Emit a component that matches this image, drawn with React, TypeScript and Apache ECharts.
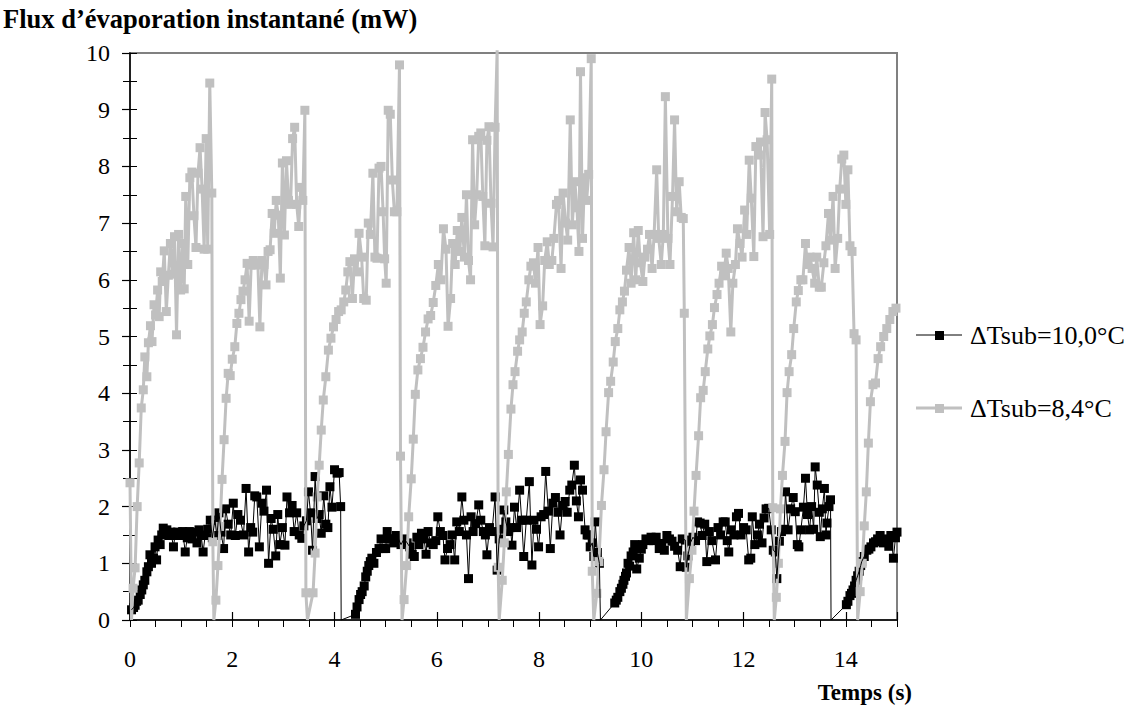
import React, { useEffect, useRef } from "react";
import * as echarts from "echarts";

// ---- Data (time s, flux mW) ----
// Series ΔTsub=10,0°C (black), one array per bubble cycle
const black1: number[][] = [[0.03,0.18],[0.07,0.22],[0.10,0.26],[0.13,0.33],[0.16,0.35],[0.20,0.45],[0.23,0.53],[0.26,0.62],[0.29,0.70],[0.33,0.85],[0.36,0.94],[0.39,1.15],[0.42,1.00],[0.46,1.09],[0.49,1.29],[0.52,1.06],[0.55,1.41],[0.59,1.33],[0.62,1.50],[0.65,1.62],[0.69,1.56],[0.72,1.59],[0.76,1.49],[0.80,1.55],[0.85,1.29],[0.88,1.49],[0.93,1.55],[0.98,1.49],[1.03,1.56],[1.08,1.20],[1.12,1.45],[1.16,1.56],[1.21,1.43],[1.26,1.55],[1.31,1.36],[1.35,1.59],[1.39,1.50],[1.43,1.20],[1.47,1.49],[1.52,1.60],[1.57,1.76],[1.61,1.45],[1.66,1.76],[1.70,1.49],[1.74,1.89],[1.78,1.55],[1.83,1.26],[1.87,1.96],[1.92,1.69],[1.97,1.50],[2.02,2.06],[2.06,1.49],[2.11,1.86],[2.16,1.76],[2.22,1.50],[2.27,2.32],[2.32,1.20],[2.36,1.63],[2.40,1.55],[2.44,2.19],[2.48,2.17],[2.53,1.29],[2.58,2.06],[2.62,1.92],[2.67,2.29],[2.71,1.00],[2.76,1.79],[2.80,1.60],[2.85,1.13],[2.89,1.86],[2.93,1.33],[2.98,1.63],[3.03,1.32],[3.07,2.17],[3.12,1.89],[3.17,2.02],[3.21,1.56],[3.26,1.89],[3.31,1.50],[3.36,1.44],[3.40,1.66],[3.45,1.75],[3.49,2.26],[3.53,1.89],[3.57,1.23],[3.62,2.53],[3.66,1.79],[3.70,1.86],[3.74,1.53],[3.79,2.19],[3.83,1.69],[3.87,1.63],[3.91,2.35],[3.95,1.99],[4.00,2.65],[4.05,2.59],[4.09,2.60],[4.12,2.00],[4.13,0.00]];
const black2: number[][] = [[4.41,0.10],[4.44,0.23],[4.48,0.36],[4.51,0.45],[4.54,0.50],[4.58,0.60],[4.61,0.76],[4.64,0.86],[4.67,0.96],[4.70,1.03],[4.73,1.09],[4.77,1.00],[4.82,1.19],[4.87,1.26],[4.91,1.43],[4.95,1.26],[5.00,1.26],[5.03,1.56],[5.07,1.43],[5.11,1.43],[5.16,1.36],[5.21,1.49],[5.26,1.41],[5.30,1.33],[5.36,1.43],[5.42,1.36],[5.47,1.29],[5.52,1.16],[5.56,1.12],[5.61,1.46],[5.65,1.33],[5.70,1.53],[5.75,1.43],[5.79,1.16],[5.83,1.56],[5.88,1.36],[5.93,1.33],[5.98,1.40],[6.02,1.82],[6.07,1.56],[6.12,1.49],[6.16,1.06],[6.21,1.26],[6.26,1.33],[6.30,1.50],[6.35,1.06],[6.39,1.73],[6.44,1.56],[6.49,2.17],[6.53,1.76],[6.58,1.50],[6.62,0.73],[6.67,1.82],[6.71,1.56],[6.76,1.70],[6.82,2.03],[6.86,1.76],[6.91,1.56],[6.95,1.50],[6.98,1.15],[7.03,1.63],[7.08,1.56],[7.14,2.17],[7.18,0.88],[7.22,1.43],[7.27,1.60],[7.31,1.94],[7.35,1.73],[7.40,1.56],[7.44,1.63],[7.47,1.32],[7.52,1.99],[7.56,1.63],[7.62,2.29],[7.66,1.76],[7.70,1.12],[7.75,1.76],[7.81,2.44],[7.86,0.97],[7.90,1.76],[7.95,1.60],[7.99,1.29],[8.04,1.82],[8.09,1.86],[8.13,2.62],[8.18,1.92],[8.22,1.26],[8.27,2.06],[8.32,2.16],[8.37,1.90],[8.41,1.50],[8.46,2.02],[8.51,2.09],[8.55,1.90],[8.60,2.29],[8.64,2.38],[8.69,2.73],[8.73,2.10],[8.77,1.82],[8.81,2.47],[8.85,2.29],[8.90,1.59],[8.94,1.50],[8.97,1.50],[9.00,1.29],[9.04,1.36],[9.07,1.12],[9.10,1.73],[9.14,1.19],[9.18,1.00],[9.20,0.00]];
const black3: number[][] = [[9.48,0.30],[9.51,0.35],[9.54,0.40],[9.58,0.50],[9.61,0.56],[9.64,0.63],[9.66,0.70],[9.69,0.77],[9.71,0.83],[9.74,1.00],[9.77,0.95],[9.80,1.13],[9.84,1.20],[9.87,1.33],[9.91,0.90],[9.96,1.09],[10.00,1.25],[10.03,1.33],[10.09,1.43],[10.14,1.40],[10.19,1.46],[10.24,1.40],[10.29,1.46],[10.35,1.26],[10.40,1.35],[10.45,1.23],[10.50,1.49],[10.55,1.43],[10.60,1.39],[10.65,1.30],[10.71,1.23],[10.76,0.94],[10.80,1.43],[10.86,1.41],[10.88,0.93],[10.91,1.13],[10.96,1.36],[11.01,1.46],[11.06,1.40],[11.10,1.73],[11.15,1.71],[11.19,1.49],[11.24,1.69],[11.28,1.03],[11.33,1.56],[11.38,1.40],[11.45,1.06],[11.50,1.63],[11.55,1.50],[11.60,1.73],[11.64,1.73],[11.68,1.40],[11.71,1.20],[11.76,1.59],[11.81,1.50],[11.86,1.82],[11.90,1.88],[11.95,1.50],[12.00,1.63],[12.05,1.59],[12.10,1.06],[12.14,1.09],[12.17,1.82],[12.22,1.33],[12.27,1.50],[12.31,1.69],[12.36,1.36],[12.40,1.80],[12.44,1.96],[12.49,1.97],[12.54,1.59],[12.58,1.23],[12.62,1.20],[12.65,0.73],[12.70,1.39],[12.74,1.56],[12.79,1.60],[12.82,2.26],[12.87,1.59],[12.92,1.96],[12.97,2.16],[13.01,1.91],[13.05,1.33],[13.08,1.29],[13.12,1.59],[13.17,1.99],[13.21,2.50],[13.25,1.86],[13.29,1.59],[13.33,2.00],[13.37,1.60],[13.40,2.70],[13.44,2.38],[13.48,1.90],[13.50,1.47],[13.54,1.96],[13.58,2.32],[13.61,1.50],[13.63,1.71],[13.67,2.00],[13.70,2.12],[13.71,0.00]];
const black4: number[][] = [[14.01,0.27],[14.04,0.33],[14.08,0.43],[14.11,0.47],[14.14,0.53],[14.17,0.60],[14.20,0.70],[14.23,0.78],[14.26,0.86],[14.29,0.96],[14.31,1.03],[14.36,1.12],[14.41,1.23],[14.45,1.25],[14.49,1.29],[14.54,1.36],[14.58,1.38],[14.62,1.43],[14.67,1.49],[14.70,1.42],[14.73,1.36],[14.77,1.40],[14.80,1.43],[14.84,1.30],[14.88,1.49],[14.93,1.09],[14.97,1.45],[15.00,1.55]];

// Series ΔTsub=8,4°C (grey), one array per bubble cycle
const grey1: number[][] = [[0.00,2.42],[0.03,0.00],[0.06,0.56],[0.10,0.92],[0.14,2.00],[0.18,2.77],[0.22,3.74],[0.26,4.06],[0.29,4.64],[0.33,4.29],[0.36,4.89],[0.40,5.19],[0.43,4.91],[0.47,5.56],[0.50,5.38],[0.54,5.82],[0.57,5.35],[0.60,6.14],[0.63,5.97],[0.67,6.51],[0.71,5.44],[0.75,6.08],[0.79,6.64],[0.83,6.10],[0.87,6.76],[0.91,5.03],[0.95,6.80],[0.99,5.82],[1.03,6.64],[1.06,5.84],[1.09,7.47],[1.13,6.27],[1.17,7.80],[1.21,7.90],[1.25,7.13],[1.29,6.57],[1.33,7.88],[1.37,8.33],[1.41,7.60],[1.45,6.54],[1.49,8.49],[1.52,6.54],[1.56,9.47],[1.60,7.53],[1.62,1.38],[1.64,0.00]];
const grey2: number[][] = [[1.68,0.35],[1.72,0.96],[1.76,1.65],[1.80,2.48],[1.84,3.18],[1.88,3.91],[1.92,4.35],[1.96,4.31],[2.00,4.60],[2.05,4.82],[2.09,5.23],[2.13,5.41],[2.17,5.65],[2.21,5.80],[2.25,6.00],[2.29,6.29],[2.33,5.27],[2.37,6.26],[2.41,6.34],[2.46,6.26],[2.50,6.30],[2.54,5.17],[2.58,6.34],[2.62,6.27],[2.66,5.91],[2.70,6.50],[2.74,6.53],[2.78,7.17],[2.82,6.82],[2.86,7.40],[2.90,7.14],[2.94,6.03],[2.98,8.06],[3.02,6.79],[3.06,8.10],[3.10,7.40],[3.14,7.33],[3.18,8.49],[3.22,8.69],[3.26,7.33],[3.30,6.94],[3.34,7.63],[3.38,7.40],[3.42,8.99],[3.44,0.48],[3.47,0.00]];
const grey3: number[][] = [[3.58,0.48],[3.62,1.18],[3.66,2.17],[3.70,2.73],[3.74,3.35],[3.78,3.88],[3.83,4.29],[3.88,4.76],[3.93,4.97],[3.98,5.17],[4.03,5.30],[4.08,5.44],[4.13,5.47],[4.18,5.61],[4.22,5.82],[4.26,6.14],[4.30,6.32],[4.35,5.67],[4.39,6.37],[4.44,6.14],[4.48,6.82],[4.53,6.40],[4.57,5.67],[4.62,5.64],[4.66,7.00],[4.70,6.80],[4.75,7.88],[4.79,6.40],[4.83,6.38],[4.87,7.97],[4.91,8.00],[4.95,7.20],[4.98,6.37],[5.01,5.94],[5.05,8.99],[5.09,8.92],[5.13,7.76],[5.17,7.20],[5.22,7.20],[5.27,9.79],[5.29,2.89],[5.32,0.00]];
const grey4: number[][] = [[5.36,0.36],[5.41,0.96],[5.45,1.82],[5.50,2.49],[5.54,3.19],[5.58,3.98],[5.63,4.41],[5.68,4.61],[5.73,4.81],[5.78,5.08],[5.83,5.31],[5.88,5.37],[5.93,5.60],[5.98,5.90],[6.03,6.27],[6.08,6.00],[6.13,6.90],[6.18,6.54],[6.22,5.18],[6.27,5.67],[6.31,6.64],[6.36,6.27],[6.40,6.87],[6.45,6.50],[6.49,7.10],[6.54,6.40],[6.58,7.50],[6.62,6.34],[6.66,6.00],[6.70,8.47],[6.74,6.97],[6.78,7.50],[6.82,8.53],[6.86,8.59],[6.90,7.47],[6.94,6.60],[6.98,8.46],[7.02,8.70],[7.06,7.35],[7.10,6.58],[7.14,8.69],[7.18,10.05],[7.20,0.93],[7.22,0.00]];
const grey5: number[][] = [[7.28,0.70],[7.32,1.36],[7.36,2.26],[7.40,2.92],[7.45,3.72],[7.49,4.15],[7.53,4.38],[7.58,4.74],[7.62,4.94],[7.67,5.08],[7.71,5.41],[7.75,5.61],[7.80,6.00],[7.84,6.24],[7.89,6.30],[7.93,5.94],[7.98,6.57],[8.02,5.21],[8.07,5.54],[8.11,6.34],[8.16,6.67],[8.20,6.27],[8.25,6.34],[8.29,6.73],[8.34,7.33],[8.38,7.40],[8.43,6.20],[8.47,7.53],[8.52,7.00],[8.56,6.70],[8.61,8.82],[8.65,6.97],[8.70,7.73],[8.74,7.27],[8.78,6.50],[8.81,9.67],[8.85,6.73],[8.89,7.80],[8.93,7.40],[8.97,7.86],[9.02,9.90],[9.04,0.86],[9.07,0.00]];
const grey6: number[][] = [[9.13,0.47],[9.17,1.03],[9.22,2.02],[9.27,2.65],[9.31,3.32],[9.36,4.01],[9.40,4.21],[9.45,4.55],[9.49,4.91],[9.54,5.14],[9.58,5.47],[9.63,5.61],[9.67,5.80],[9.71,6.17],[9.76,6.57],[9.80,5.94],[9.85,6.83],[9.89,6.00],[9.94,6.87],[9.98,6.30],[10.03,5.97],[10.07,6.40],[10.12,6.54],[10.16,6.80],[10.21,6.20],[10.25,6.80],[10.30,7.94],[10.34,6.73],[10.39,6.27],[10.43,6.80],[10.47,9.23],[10.52,6.73],[10.56,6.27],[10.61,7.47],[10.65,8.82],[10.69,7.20],[10.74,7.73],[10.78,7.10],[10.82,7.08],[10.84,5.41],[10.88,0.00]];
const grey7: number[][] = [[10.94,0.73],[10.99,1.23],[11.03,1.92],[11.07,2.55],[11.12,3.25],[11.16,3.92],[11.21,4.05],[11.25,4.38],[11.30,4.78],[11.34,5.01],[11.39,5.21],[11.43,5.51],[11.48,5.74],[11.52,5.94],[11.57,6.24],[11.61,6.07],[11.66,6.47],[11.70,6.20],[11.75,5.08],[11.79,5.94],[11.84,6.27],[11.88,6.90],[11.93,6.64],[11.97,6.40],[12.02,7.23],[12.06,6.80],[12.11,8.11],[12.15,7.44],[12.20,6.41],[12.24,8.35],[12.29,8.20],[12.33,8.43],[12.38,6.76],[12.42,8.95],[12.46,8.47],[12.51,6.80],[12.55,9.54],[12.57,1.98],[12.60,0.00]];
const grey8: number[][] = [[12.64,0.40],[12.68,1.00],[12.72,1.96],[12.76,2.55],[12.81,3.15],[12.85,4.01],[12.89,4.38],[12.94,4.68],[12.98,5.14],[13.03,5.61],[13.07,5.81],[13.12,6.00],[13.16,6.00],[13.21,6.64],[13.25,6.27],[13.30,6.40],[13.34,6.20],[13.39,5.94],[13.43,6.40],[13.48,5.87],[13.52,5.87],[13.57,6.30],[13.61,6.60],[13.66,7.17],[13.70,6.70],[13.75,7.47],[13.79,6.20],[13.84,6.73],[13.88,7.60],[13.92,8.13],[13.96,8.20],[14.00,7.33],[14.04,7.94],[14.08,6.60],[14.12,6.50],[14.16,5.05],[14.20,4.94],[14.23,0.00]];
const grey9: number[][] = [[14.28,0.50],[14.32,1.00],[14.36,1.66],[14.40,2.26],[14.44,3.12],[14.48,3.85],[14.53,4.15],[14.58,4.18],[14.63,4.61],[14.68,4.82],[14.74,5.00],[14.80,5.14],[14.86,5.30],[14.92,5.44],[14.98,5.50]];

const seriesNames = ["\u0394Tsub=10,0\u00b0C", "\u0394Tsub=8,4\u00b0C"];
const xTickValues = [0, 2, 4, 6, 8, 10, 12, 14];
const yTickValues = [0, 1, 2, 3, 4, 5, 6, 7, 8, 9, 10];
const titleText = "Flux d\u2019\u00e9vaporation instantan\u00e9 (mW)";
const xTitleText = "Temps (s)";

const blackData = [...black1, ...black2, ...black3, ...black4];
const greyData = [...grey1, ...grey2, ...grey3, ...grey4, ...grey5, ...grey6, ...grey7, ...grey8, ...grey9];
// zero readings are the off-scale dips: drawn by the line only, without a marker
const blackMarks = blackData.filter((p) => p[1] > 0);
const greyMarks = greyData.filter((p) => p[1] > 0);

const FONT = "'Liberation Serif', 'Times New Roman', Times, serif";
const BLACK = "#000000";
const GREY = "#c0c0c0";

export default function App() {
  const ref = useRef<HTMLDivElement>(null);
  useEffect(() => {
    if (!ref.current) return;
    const chart = echarts.init(ref.current, undefined, { renderer: "svg" });
    const labelStyle = { color: "#000", fontFamily: FONT, fontSize: 24 };
    chart.setOption({
      animation: false,
      backgroundColor: "#ffffff",
      textStyle: { fontFamily: FONT },
      grid: {
        left: 130, top: 53, width: 767, height: 567,
        show: true, borderColor: "#808080", borderWidth: 2, backgroundColor: "transparent",
      },
      xAxis: [
        {
          type: "value", min: 0, max: 15, interval: 2, position: "bottom",
          axisLine: { show: true, lineStyle: { color: BLACK, width: 1.5 } },
          axisTick: { show: true, inside: true, length: 8, lineStyle: { color: BLACK, width: 1.2 } },
          axisLabel: {
            ...labelStyle, margin: 27,
            formatter: (v: number) => (xTickValues.includes(v) ? String(v) : ""),
          },
          splitLine: { show: false },
        },
        {
          type: "value", min: 0, max: 15, interval: 0.5, position: "bottom",
          axisLine: { show: false },
          axisTick: { show: true, length: 7, lineStyle: { color: BLACK, width: 1 } },
          axisLabel: { show: false },
          splitLine: { show: false },
        },
      ],
      yAxis: [
        {
          type: "value", min: 0, max: 10, interval: 1, position: "left",
          axisLine: { show: true, lineStyle: { color: BLACK, width: 1.5 } },
          axisTick: { show: true, length: 8, lineStyle: { color: BLACK, width: 1.2 } },
          minorTick: { show: true, splitNumber: 2, length: 7, lineStyle: { color: BLACK, width: 1 } },
          axisLabel: {
            ...labelStyle, margin: 20,
            formatter: (v: number) => (yTickValues.includes(v) ? String(v) : ""),
          },
          splitLine: { show: false },
        },
        {
          type: "value", min: 0, max: 10, interval: 0.5, position: "left",
          axisLine: { show: false },
          axisTick: { show: true, inside: true, length: 7, lineStyle: { color: BLACK, width: 1 } },
          axisLabel: { show: false },
          splitLine: { show: false },
        },
      ],
      series: [
        {
          name: seriesNames[1] + " line", type: "line", data: greyData, xAxisIndex: 0, yAxisIndex: 0,
          showSymbol: false, symbol: "none", clip: false,
          lineStyle: { color: GREY, width: 3 }, itemStyle: { color: GREY },
        },
        {
          name: seriesNames[0] + " line", type: "line", data: blackData, xAxisIndex: 0, yAxisIndex: 0,
          showSymbol: false, symbol: "none",
          lineStyle: { color: BLACK, width: 1 }, itemStyle: { color: BLACK },
        },
        {
          name: seriesNames[0], type: "scatter", data: blackMarks, xAxisIndex: 0, yAxisIndex: 0,
          symbol: "rect", symbolSize: 9, itemStyle: { color: BLACK, opacity: 1 },
        },
        {
          name: seriesNames[1], type: "scatter", data: greyMarks, xAxisIndex: 0, yAxisIndex: 0,
          symbol: "rect", symbolSize: 9, itemStyle: { color: GREY, opacity: 1 }, clip: true,
        },
      ],
      graphic: [
        {
          type: "text", left: 3, top: 5,
          style: { text: titleText, fontFamily: FONT, fontSize: 26.5, fontWeight: "bold", fill: "#000" },
        },
        {
          type: "text", x: 912, y: 692,
          style: { text: xTitleText, fontFamily: FONT, fontSize: 23, fontWeight: "bold", fill: "#000", align: "right", verticalAlign: "middle" },
        },
        // legend row 1
        { type: "line", shape: { x1: 916, y1: 335, x2: 962, y2: 335 }, style: { stroke: BLACK, lineWidth: 1 } },
        { type: "rect", shape: { x: 935, y: 331, width: 9, height: 9 }, style: { fill: BLACK } },
        {
          type: "text", x: 970, y: 335,
          style: { text: seriesNames[0], fontFamily: FONT, fontSize: 26, fill: "#000", verticalAlign: "middle" },
        },
        // legend row 2
        { type: "line", shape: { x1: 916, y1: 408, x2: 962, y2: 408 }, style: { stroke: GREY, lineWidth: 3 } },
        { type: "rect", shape: { x: 935, y: 404, width: 9, height: 9 }, style: { fill: GREY } },
        {
          type: "text", x: 970, y: 408,
          style: { text: seriesNames[1], fontFamily: FONT, fontSize: 26, fill: "#000", verticalAlign: "middle" },
        },
      ],
    });
    return () => chart.dispose();
  }, []);
  return (
    <div
      ref={ref}
      style={{ position: "fixed", left: 0, top: 0, width: 1134, height: 711, background: "#fff" }}
    />
  );
}
